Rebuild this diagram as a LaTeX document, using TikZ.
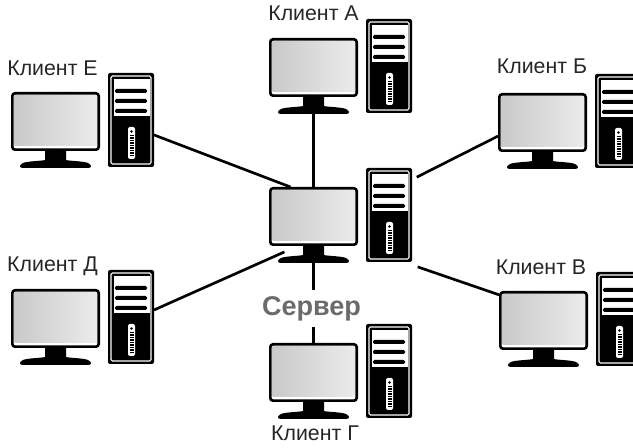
\documentclass[tikz,border=0pt]{standalone}
\usepackage{fontspec}
\setmainfont{Liberation Sans}
\definecolor{labgray}{gray}{0.15}
\definecolor{srvgray}{gray}{0.42}
\definecolor{scrleft}{gray}{0.79}
\definecolor{scrright}{gray}{0.92}
\tikzset{
	monitor/.style={draw=black,fill=white,line width=2pt,rounded corners=2pt,inner sep=0pt,minimum width=64.75pt,minimum height=42.25pt},
	tower/.style={fill=black,rounded corners=1.5pt,inner sep=0pt,outer sep=0pt,minimum width=34.5pt,minimum height=70.5pt},
	lab/.style={text=labgray,inner sep=0pt,font=\fontsize{16}{19}\selectfont},
	srvlab/.style={text=srvgray,inner sep=0pt,minimum height=27.75pt,font=\fontsize{20.3}{24}\selectfont\bfseries},
	wire/.style={draw=black,line width=2pt}
}
\begin{document}
\begin{tikzpicture}[x=0.75pt,y=-0.75pt]
	\clip (0,0) rectangle (633,448);
	\foreach \mx/\my/\who in {269/38/A,498/93/B,499/291/V,269/343/G,11/289/D,11/92/E,269/187/S} {
		\begin{scope}[shift={(\mx,\my)}]
			\node[monitor] at (44.5,29.5) (mon\who) {};
			\shade[left color=scrleft,right color=scrright] (3.5,3.5) rectangle (85.5,54);
			\fill (34,59) -- (55,59) -- (55,68) .. controls (58,69) and (72,69) .. (77,71) .. controls (81,73) and (81,76) .. (77,76) -- (12,76) .. controls (8,76) and (8,73) .. (12,71) .. controls (17,69) and (31,69) .. (34,68) -- cycle;
			\node[tower] at (120,28) (tow\who) {};
			\draw[white,line width=0.8pt,rounded corners=1pt] (100,-16) rectangle (140,72);
			\fill[white] (103,-13) rectangle (139,24);
			\fill[black,rounded corners=1pt] (104,-3) rectangle (136,1);
			\fill[black,rounded corners=1pt] (104,7) rectangle (136,11);
			\fill[black,rounded corners=1pt] (104,17) rectangle (136,21);
			\fill[white,rounded corners=1.5pt] (117,35) rectangle (124,67);
			\fill[black] (120.5,39.5) circle (1.3);
			\foreach \k in {0,...,8} {
				\fill[black] (118.5,43+2.5*\k) rectangle (122.5,44.5+2.5*\k);
			}
		\end{scope}
	}
	\node[lab] at (313.5,13) (labA) {Клиент А};
	\node[lab] at (542,66) (labB) {Клиент Б};
	\node[lab] at (541,267) (labV) {Клиент В};
	\node[lab] at (315,433) (labG) {Клиент Г};
	\node[lab] at (52.5,266) (labD) {Клиент Д};
	\node[lab] at (52.5,68) (labE) {Клиент Е};
	\node[srvlab] at (311.5,308.5) (labS) {Сервер};
	\draw[wire] (monA.south) -- (monS.north);
	\draw[wire,shorten <=4pt] (towS.57) -- (monB.197);
	\draw[wire,shorten <=4.5pt] ([yshift=-2.2pt]towS.south east) -- (monV.150);
	\draw[wire] (monS.south) -- (monS.south |- labS.north);
	\draw[wire] (monS.south |- labS.south) -- (monG.north);
	\draw[wire,shorten >=11pt] (towD.17) -- (monS.242);
	\draw[wire] (towE.-33) -- (monS.128.5);
\end{tikzpicture}
\end{document}
